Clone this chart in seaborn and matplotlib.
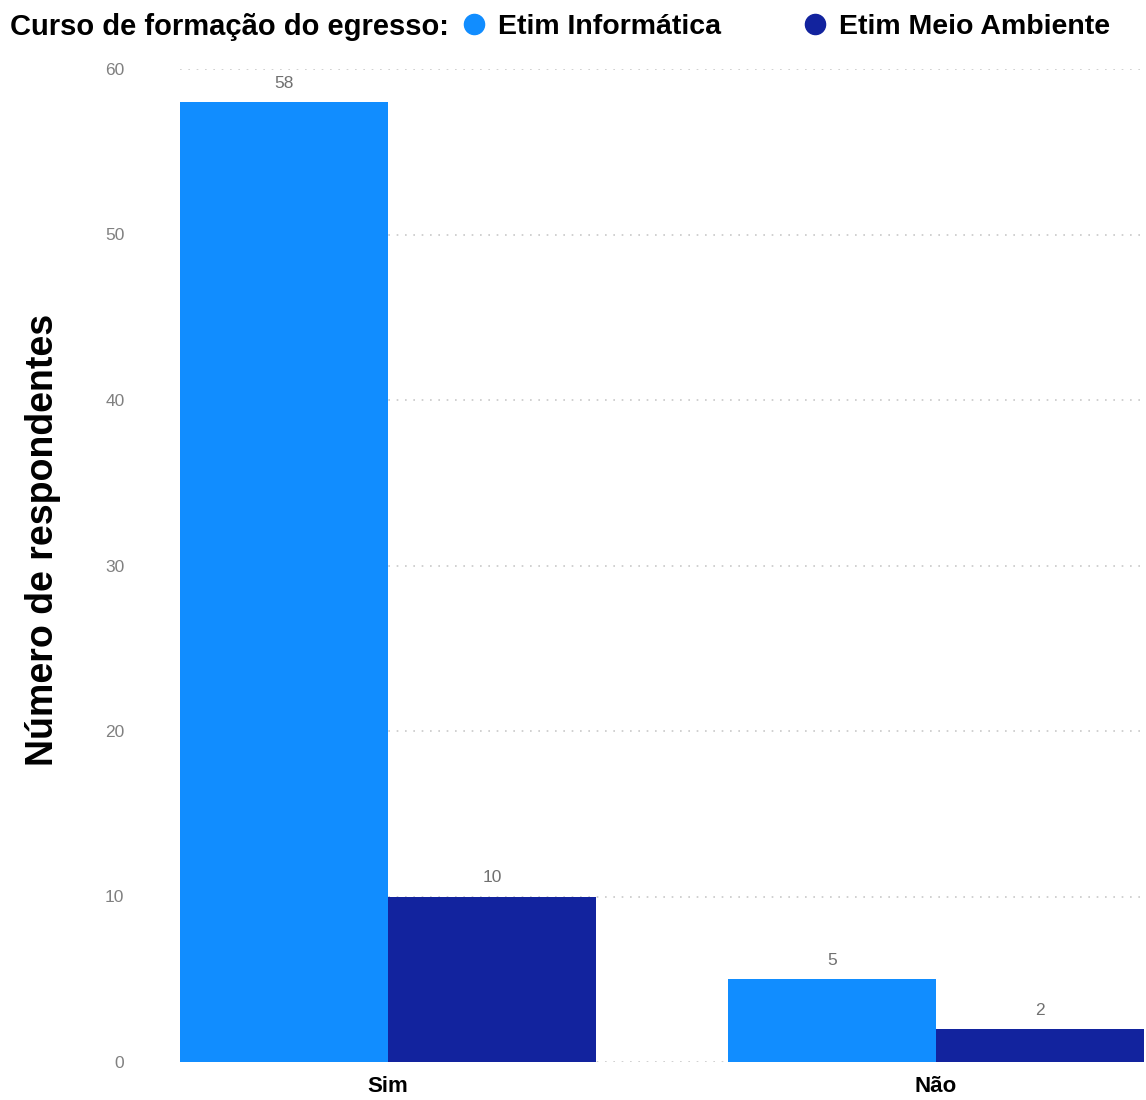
import matplotlib
matplotlib.use("Agg")
import matplotlib.pyplot as plt
from matplotlib.lines import Line2D
import seaborn as sns
import pandas as pd

# Survey answers grouped by graduate course
respostas = ["Sim", "Não"]
cursos = ["Etim Informática", "Etim Meio Ambiente"]
informatica = [58, 5]
meio_ambiente = [10, 2]
cores = ["#118DFF", "#12239E"]
yticks = [0, 10, 20, 30, 40, 50, 60]

df = pd.DataFrame({
    "resposta": respostas * 2,
    "curso": [cursos[0]] * len(respostas) + [cursos[1]] * len(respostas),
    "n": informatica + meio_ambiente,
})

sns.set_style("white")
plt.rcParams["font.family"] = ["Liberation Sans", "DejaVu Sans"]
plt.rcParams["text.color"] = "black"

fig = plt.figure(figsize=(11.46, 11.0), dpi=100)
ax = fig.add_axes([180 / 1146, 38 / 1100, 966 / 1146, 993 / 1100])

sns.barplot(data=df, x="resposta", y="n", hue="curso", order=respostas,
            hue_order=cursos, palette=cores, width=0.76, saturation=1,
            linewidth=0, ax=ax, legend=False, zorder=2)

ax.set_ylim(0, 60)
ax.set_xlim(-0.3796, 1.383)
ax.set_yticks(yticks)
ax.set_yticklabels([str(v) for v in yticks])
ax.tick_params(axis="y", length=0, pad=40, labelsize=12.5, labelcolor="#808080")
ax.tick_params(axis="x", length=0, pad=10, labelsize=16)
for lbl in ax.get_xticklabels():
    lbl.set_fontweight("bold")
    lbl.set_color("black")

ax.grid(axis="y", color="#c8c8c8", linestyle=(0, (1, 4)), linewidth=1.2, zorder=0)
ax.grid(axis="x", visible=False)
ax.set_axisbelow(True)
for s in ax.spines.values():
    s.set_visible(False)

for cont in ax.containers:
    ax.bar_label(cont, labels=[f"{v:.0f}" for v in cont.datavalues],
                 padding=8, fontsize=12.5, color="#707070")

ax.set_xlabel("")
ax.set_ylabel("Número de respondentes", fontsize=27, fontweight="bold",
              color="black", va="center")
ax.yaxis.set_label_coords(-0.1418, 0.526)

# Legend row with its title
fig.text(10 / 1146, 1 - 27 / 1100, "Curso de formação do egresso:",
         fontsize=21, fontweight="bold", ha="left", va="center", color="black")
handles = [Line2D([], [], marker="o", linestyle="", markersize=14.5,
                  markerfacecolor=c, markeredgecolor=c) for c in cores]
leg = fig.legend(handles=handles, labels=cursos, ncol=2, frameon=False,
                 loc="center left", bbox_to_anchor=(464 / 1146, 1 - 27 / 1100),
                 borderpad=0, borderaxespad=0, handlelength=0.7,
                 handletextpad=0.5, columnspacing=2.95,
                 prop={"size": 20.5, "weight": "bold"})
for t in leg.get_texts():
    t.set_color("black")

fig.savefig("out.png", dpi=100, facecolor="white")
